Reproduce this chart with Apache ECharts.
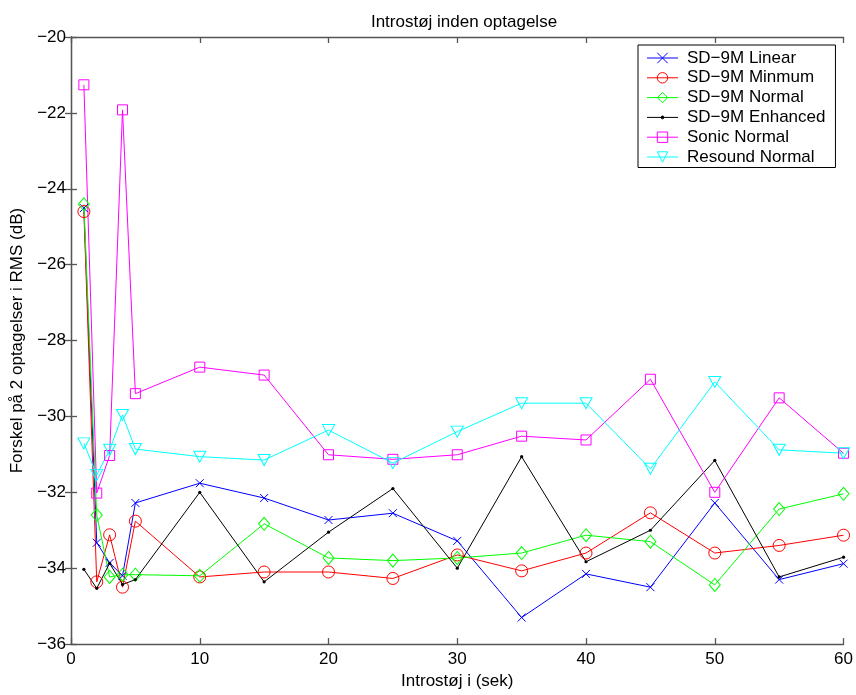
<!DOCTYPE html>
<html><head><meta charset="utf-8">
<script src="https://cdn.jsdelivr.net/npm/echarts@6/dist/echarts.min.js"></script>
<style>html,body{margin:0;padding:0;background:#fff}#c{width:856px;height:695px}</style>
</head><body><div id="c"></div>
<script>
var xs = [1,2,3,4,5,10,15,20,25,30,35,40,45,50,55,60];
var linear   = [-24.51,-33.33,-33.86,-34.2,-32.28,-31.76,-32.15,-32.73,-32.55,-33.28,-35.3,-34.15,-34.5,-32.28,-34.3,-33.88];
var minimum  = [-24.6,-34.36,-33.12,-34.5,-32.76,-34.23,-34.1,-34.1,-34.27,-33.65,-34.07,-33.6,-32.54,-33.6,-33.4,-33.13];
var normal   = [-24.41,-32.6,-34.23,-34.17,-34.17,-34.2,-32.83,-33.73,-33.8,-33.73,-33.6,-33.13,-33.3,-34.44,-32.44,-32.04];
var enhanced = [-34.03,-34.53,-33.87,-34.43,-34.3,-32.0,-34.36,-33.05,-31.9,-34.0,-31.06,-33.83,-33.0,-31.16,-34.23,-33.71];
var sonic    = [-21.26,-32.02,-31.03,-21.92,-29.4,-28.7,-28.91,-31.01,-31.13,-31.01,-30.52,-30.62,-29.02,-32.0,-29.51,-30.97];
var resound  = [-30.71,-31.54,-30.88,-29.96,-30.86,-31.06,-31.15,-30.36,-31.23,-30.4,-29.65,-29.65,-31.38,-29.09,-30.88,-30.97];
var names = ['SD\u22129M Linear','SD\u22129M Minmum','SD\u22129M Normal','SD\u22129M Enhanced','Sonic Normal','Resound Normal'];

function pts(arr){ return xs.map(function(x,i){ return [x, arr[i]]; }); }
var F = 'Liberation Sans, Arial, Helvetica, sans-serif';
function mk(name, arr, color, symbol, size, filled){
  return {
    name: name, type: 'line', data: pts(arr), symbol: symbol, symbolSize: size,
    showAllSymbol: true, animation: false,
    lineStyle: {color: color, width: 1},
    itemStyle: {color: filled ? color : 'rgba(0,0,0,0)', borderColor: color, borderWidth: filled ? 0 : 1},
    emphasis: {disabled: true}
  };
}
function fmt(v){ return String(v).replace('-', '\u2212'); }
var AX = '#555';
var axisCommon = {
  axisLine: {show: true, lineStyle: {color: AX, width: 1.3}},
  axisTick: {show: true, inside: true, length: 6, lineStyle: {color: AX, width: 1.3}},
  splitLine: {show: false}
};
var dotPath = 'path://M0,0L0,0M12,12L12,12M4.4,6A1.6,1.6,0,1,1,7.6,6A1.6,1.6,0,1,1,4.4,6Z';
var chart = echarts.init(document.getElementById('c'), null, {renderer: 'canvas'});
chart.setOption({
  backgroundColor: '#fff',
  animation: false,
  title: {text: 'Introstøj inden optagelse', left: 459, textAlign: 'center', top: 9,
    textStyle: {fontFamily: F, fontSize: 17, fontWeight: 'normal', color: '#000'}},
  grid: {left: 71, right: 10, top: 37, bottom: 48, containLabel: false},
  legend: {
    orient: 'vertical', left: 638, top: 45, data: names,
    itemWidth: 31, itemHeight: 13, itemGap: 2.8,
    backgroundColor: '#fff', borderColor: '#000', borderWidth: 1, padding: [4.5, 10, 2, 8.5],
    lineStyle: {width: 1},
    itemStyle: {borderWidth: 1},
    textStyle: {fontFamily: F, fontSize: 17, color: '#000', padding: [0, 0, 0, 4]}
  },
  xAxis: [
    Object.assign({type: 'value', min: 0, max: 60, interval: 10, position: 'bottom',
      name: 'Introstøj i (sek)', nameLocation: 'middle', nameGap: 28,
      nameTextStyle: {fontFamily: F, fontSize: 17, color: '#000'},
      axisLabel: {fontFamily: F, fontSize: 17, color: '#000', margin: 7, formatter: fmt}}, axisCommon),
    Object.assign({type: 'value', min: 0, max: 60, interval: 10, position: 'top',
      axisLabel: {show: false}}, axisCommon)
  ],
  yAxis: [
    Object.assign({type: 'value', min: -36, max: -20, interval: 2, position: 'left',
      name: 'Forskel på 2 optagelser i RMS (dB)', nameLocation: 'middle', nameGap: 42,
      nameTextStyle: {fontFamily: F, fontSize: 17, color: '#000'},
      axisLabel: {fontFamily: F, fontSize: 17, color: '#000', margin: 5, formatter: fmt}}, axisCommon),
    Object.assign({type: 'value', min: -36, max: -20, interval: 2, position: 'right',
      axisLabel: {show: false}}, axisCommon)
  ],
  series: [
    mk(names[0], linear, '#0000ff', 'path://M0,0L10,10M10,0L0,10', 8, false),
    mk(names[1], minimum, '#ff0000', 'circle', 12, false),
    mk(names[2], normal, '#00ff00', 'diamond', [11, 13], false),
    mk(names[3], enhanced, '#000000', dotPath, 12, true),
    mk(names[4], sonic, '#ff00ff', 'rect', 10, false),
    mk(names[5], resound, '#00ffff', 'path://M0,0L10,0L5,9Z', [12, 11], false)
  ]
});
</script></body></html>
